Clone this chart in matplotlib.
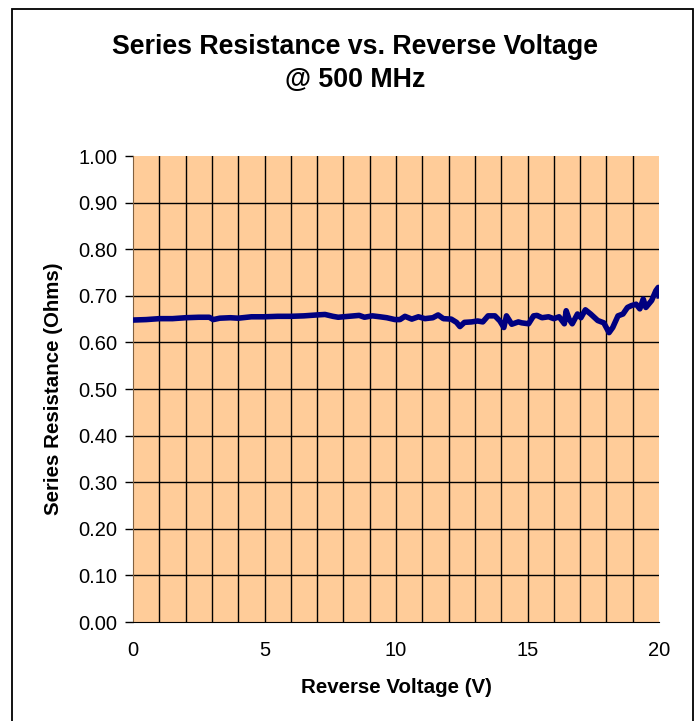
import numpy as np
import matplotlib
matplotlib.use("Agg")
import matplotlib.pyplot as plt
from matplotlib.patches import Rectangle

plt.rcParams['font.family'] = ['Liberation Sans', 'DejaVu Sans']

# reverse voltage (V) and series resistance (Ohms)
voltage = [0.0, 0.5, 1.0, 1.5, 2.0, 2.5, 2.9, 3.05, 3.3, 3.7, 4.0, 4.5, 5.0, 5.5, 6.0,
           6.5, 7.0, 7.3, 7.6, 7.8, 8.2, 8.6, 8.8, 9.1, 9.39, 9.65, 9.96, 10.15, 10.34,
           10.6, 10.85, 11.1, 11.4, 11.6, 11.8, 12.1, 12.3, 12.43, 12.6, 12.87, 13.1,
           13.3, 13.5, 13.76, 13.95, 14.1, 14.2, 14.4, 14.65, 14.78, 15.04, 15.23,
           15.36, 15.55, 15.8, 16.0, 16.2, 16.4, 16.47, 16.58, 16.7, 16.9, 17.03,
           17.2, 17.4, 17.67, 17.9, 18.1, 18.24, 18.44, 18.63, 18.8, 18.95, 19.13,
           19.27, 19.4, 19.5, 19.72, 19.88, 19.97, 20.0]
resistance = [0.648, 0.649, 0.651, 0.651, 0.653, 0.654, 0.654, 0.649, 0.652, 0.653,
              0.652, 0.655, 0.655, 0.656, 0.656, 0.657, 0.659, 0.660, 0.656, 0.654,
              0.656, 0.658, 0.654, 0.657, 0.655, 0.653, 0.649, 0.649, 0.656, 0.650,
              0.655, 0.651, 0.653, 0.659, 0.651, 0.650, 0.643, 0.634, 0.643, 0.644,
              0.646, 0.644, 0.657, 0.657, 0.646, 0.632, 0.657, 0.639, 0.644, 0.642,
              0.640, 0.657, 0.658, 0.653, 0.655, 0.651, 0.655, 0.640, 0.668, 0.650,
              0.640, 0.661, 0.653, 0.670, 0.661, 0.647, 0.642, 0.621, 0.632, 0.657,
              0.661, 0.675, 0.679, 0.682, 0.672, 0.693, 0.675, 0.690, 0.711, 0.718,
              0.700]

x_ticks = [0, 5, 10, 15, 20]
y_ticks = np.arange(0, 1.01, 0.1)

fig = plt.figure(figsize=(6.99, 7.21), dpi=100)
ax = fig.add_axes([0.1903, 0.1373, 0.7525, 0.6463])
ax.set_facecolor('#FFCC99')

ax.plot(voltage, resistance, color='#000080', lw=4.0, solid_joinstyle='round', zorder=3)

ax.set_xlim(0, 20)
ax.set_ylim(0, 1.0)
ax.set_xticks(x_ticks)
ax.set_xticks(np.arange(1, 20, 1), minor=True)
ax.set_yticks(y_ticks)
ax.set_yticklabels([f"{v:.2f}" for v in y_ticks])

ax.grid(which='minor', axis='x', color='black', lw=1.0)
ax.grid(which='major', axis='x', color='black', lw=1.0)
ax.grid(which='major', axis='y', color='black', lw=1.0)
ax.yaxis.get_gridlines()[0].set_visible(False)
ax.yaxis.get_gridlines()[-1].set_visible(False)
ax.xaxis.get_gridlines()[0].set_visible(False)
ax.xaxis.get_gridlines()[-1].set_visible(False)
ax.set_axisbelow(True)

ax.tick_params(axis='x', which='both', length=0, pad=14, labelsize=14.5)
ax.tick_params(axis='y', length=6, width=1, direction='out', pad=5, labelsize=14.5)

for s in ['top', 'right']:
    ax.spines[s].set_visible(False)
ax.spines['left'].set_color('#806040')
ax.spines['bottom'].set_color('black')

xl = ax.set_xlabel('Reverse Voltage (V)', fontsize=14.8, fontweight='bold')
ax.xaxis.set_label_coords(0.5, -0.1416)
xl.set_va('center')
yl = ax.set_ylabel('Series Resistance (Ohms)', fontsize=14.8, fontweight='bold')
ax.yaxis.set_label_coords(-0.152, 0.5)
yl.set_va('center')

fig.text(355 / 699, 1 - 47 / 721, 'Series Resistance vs. Reverse Voltage', ha='center', va='center',
         fontsize=19.3, fontweight='bold')
fig.text(355 / 699, 1 - 80 / 721, '@ 500 MHz', ha='center', va='center',
         fontsize=19.3, fontweight='bold')

fig.patches.append(Rectangle((12 / 699, -0.02), (693 - 12) / 699, 1.02 - 9 / 721,
                             transform=fig.transFigure, fill=False, ec='black', lw=1.3))

fig.savefig('out.png', dpi=100)
